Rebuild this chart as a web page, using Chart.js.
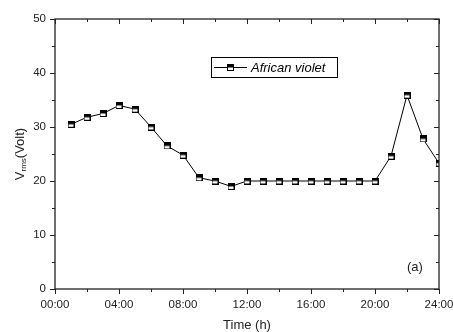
<!DOCTYPE html>
<html><head><meta charset="utf-8">
<script src="https://cdn.jsdelivr.net/npm/chart.js@4/dist/chart.umd.min.js"></script>
<style>html,body{margin:0;padding:0;background:#fff}#wrap{width:453px;height:332px}</style>
</head><body><div id="wrap"><canvas id="c" width="453" height="332"></canvas></div>
<script>
const hours = [1,2,3,4,5,6,7,8,9,10,11,12,13,14,15,16,17,18,19,20,21,22,23,24];
const vrms = [30.5,31.8,32.5,34.0,33.3,30.0,26.5,24.8,20.6,20.0,19.0,20.0,20.0,20.0,20.0,20.0,20.0,20.0,20.0,20.0,24.6,35.9,27.8,23.3];
const seriesName = 'African violet';
const xTicks = [0,4,8,12,16,20,24];
const yTicks = [0,10,20,30,40,50];
const panelLabel = '(a)';

function makeMarker(){
  const c=document.createElement('canvas'); c.width=7; c.height=7;
  const g=c.getContext('2d');
  g.fillStyle='#fff'; g.fillRect(0,0,7,7);
  g.fillStyle='#000'; g.fillRect(0,0,7,3.5);
  g.strokeStyle='#000'; g.lineWidth=1; g.strokeRect(0.5,0.5,6,6);
  return c;
}
const marker = makeMarker();
const FONT = '"Liberation Sans", Arial, sans-serif';

const framePlugin = {
  id:'frame',
  afterDraw(chart){
    const ctx=chart.ctx, a=chart.chartArea, xs=chart.scales.x, ys=chart.scales.y;
    ctx.save();
    ctx.strokeStyle='#222'; ctx.lineWidth=1.3;
    ctx.strokeRect(a.left,a.top,a.right-a.left,a.bottom-a.top);
    ctx.lineWidth=1;
    ctx.beginPath();
    for(let h=0; h<=24; h+=2){
      const x=Math.round(xs.getPixelForValue(h))+0.5;
      const major = h%4===0; const L = major?5:3;
      ctx.moveTo(x,a.bottom); ctx.lineTo(x,a.bottom+L);
      ctx.moveTo(x,a.top); ctx.lineTo(x,a.top+L);
    }
    for(let v=0; v<=50; v+=5){
      const y=Math.round(ys.getPixelForValue(v))+0.5;
      const major = v%10===0; const L = major?5:3;
      ctx.moveTo(a.left,y); ctx.lineTo(a.left-L,y);
      ctx.moveTo(a.right,y); ctx.lineTo(a.right-L,y);
    }
    ctx.stroke();
    // legend
    const lx=211, ly=57, lw=126, lh=20;
    ctx.fillStyle='#fff'; ctx.fillRect(lx,ly,lw,lh);
    ctx.strokeStyle='#000'; ctx.lineWidth=1; ctx.strokeRect(lx+0.5,ly+0.5,lw,lh);
    ctx.beginPath(); ctx.moveTo(lx+3,ly+10.5); ctx.lineTo(lx+36,ly+10.5); ctx.stroke();
    ctx.drawImage(marker, lx+16, ly+7);
    ctx.fillStyle='#000'; ctx.font='italic 13px '+FONT; ctx.textBaseline='middle'; ctx.textAlign='left';
    ctx.fillText(chart.data.datasets[0].label, lx+40, ly+11);
    // panel label
    ctx.font='13px '+FONT; ctx.fillStyle='#222';
    ctx.fillText(panelLabel, 407, 267);
    // x title
    ctx.textAlign='center'; ctx.font='13px '+FONT;
    ctx.fillText('Time (h)', (a.left+a.right)/2, 325);
    // y title with subscript
    ctx.translate(20, (a.top+a.bottom)/2); ctx.rotate(-Math.PI/2);
    const p1='V', p2='rms', p3='(Volt)';
    ctx.font='13px '+FONT; const w1=ctx.measureText(p1).width, w3=ctx.measureText(p3).width;
    ctx.font='8px '+FONT; const w2=ctx.measureText(p2).width;
    let x0=-(w1+w2+w3)/2;
    ctx.textAlign='left';
    ctx.font='13px '+FONT; ctx.fillText(p1,x0,0);
    ctx.font='8px '+FONT; ctx.fillText(p2,x0+w1,4);
    ctx.font='13px '+FONT; ctx.fillText(p3,x0+w1+w2,0);
    ctx.restore();
  }
};

new Chart(document.getElementById('c'),{
  type:'line',
  data:{datasets:[{label:seriesName,data:hours.map((h,i)=>({x:h,y:vrms[i]})),
    borderColor:'#000',borderWidth:1,pointStyle:marker,pointRadius:4,tension:0,fill:false}]},
  options:{
    responsive:false,animation:false,devicePixelRatio:1,
    layout:{padding:{left:0,right:14,top:19,bottom:0}},
    plugins:{legend:{display:false},tooltip:{enabled:false}},
    scales:{
      x:{type:'linear',min:0,max:24,
        afterBuildTicks(s){s.ticks=xTicks.map(v=>({value:v}));},
        afterFit(s){s.height=43; s.paddingLeft=0; s.paddingRight=0;},
        grid:{display:false,drawTicks:false},border:{display:false},
        ticks:{padding:9,color:'#222',font:{size:11.5,family:FONT},maxRotation:0,autoSkip:false,
          callback:v=>String(v).padStart(2,'0')+':00'}},
      y:{type:'linear',min:0,max:50,
        afterBuildTicks(s){s.ticks=yTicks.map(v=>({value:v}));},
        afterFit(s){s.width=55; s.paddingTop=0; s.paddingBottom=0;},
        grid:{display:false,drawTicks:false},border:{display:false},
        ticks:{padding:9,color:'#222',font:{size:11.5,family:FONT}}}
    }
  },
  plugins:[framePlugin]
});
</script></body></html>
